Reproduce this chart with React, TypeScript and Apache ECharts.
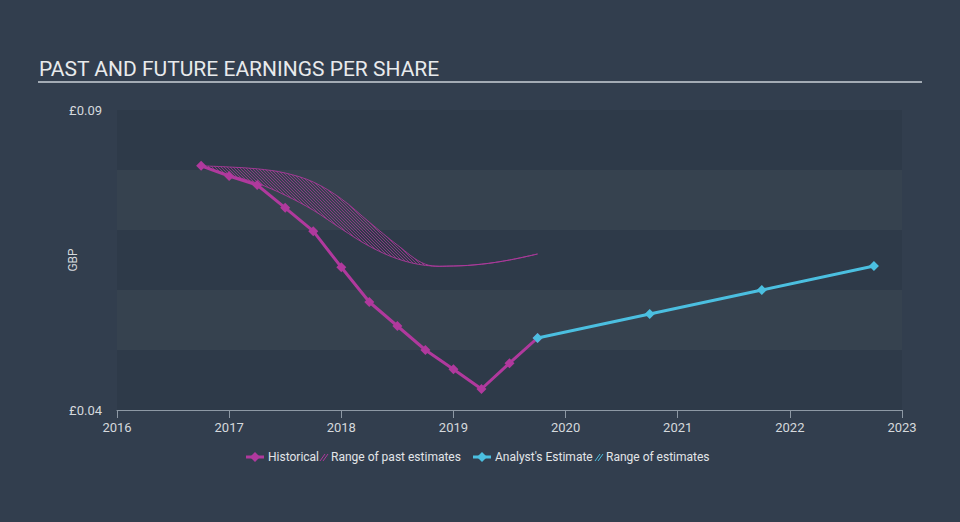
import React, { useEffect, useRef } from "react";
import * as echarts from "echarts";

const yearTicks = [2016, 2017, 2018, 2019, 2020, 2021, 2022, 2023];
const historicalYears = [2016.75, 2017.0, 2017.25, 2017.5, 2017.75, 2018.0, 2018.25, 2018.5, 2018.75, 2019.0, 2019.25, 2019.5, 2019.75];
const historicalEPS = [0.0807, 0.079, 0.0775, 0.0737, 0.0698, 0.0638, 0.058, 0.054, 0.05, 0.0468, 0.0435, 0.0478, 0.052];
const estimateYears = [2019.75, 2020.75, 2021.75, 2022.75];
const estimateEPS = [0.052, 0.056, 0.06, 0.064];
const pastRangeYears = [2016.75, 2017.0, 2017.25, 2017.5, 2017.75, 2018.0, 2018.25, 2018.5, 2018.75, 2019.0, 2019.25, 2019.5, 2019.75];
const pastRangeLow = [0.0807, 0.0792, 0.0778, 0.0758, 0.0733, 0.0702, 0.0673, 0.0652, 0.0641, 0.064, 0.0643, 0.065, 0.066];
const pastRangeHigh = [0.0807, 0.0805, 0.0802, 0.0795, 0.078, 0.0752, 0.0713, 0.0675, 0.0643, 0.064, 0.0643, 0.065, 0.066];
const yMin = 0.04;
const yMax = 0.09;

const MAGENTA = "#b0399d";
const CYAN = "#4bbfe0";
const FONT = "Roboto, 'Noto Sans', sans-serif";

function hatchPattern(color: string) {
  const n = 3;
  const c = document.createElement("canvas");
  c.width = n;
  c.height = n;
  const ctx = c.getContext("2d")!;
  ctx.fillStyle = color;
  for (let i = 0; i < n; i++) ctx.fillRect(i, i, 1, 1);
  return { image: c, repeat: "repeat", imageWidth: n, imageHeight: n } as any;
}

export default function App() {
  const ref = useRef<HTMLDivElement>(null);
  useEffect(() => {
    document.body.style.margin = "0";
    const chart = echarts.init(ref.current!, null, { renderer: "svg" });
    const pattern = hatchPattern("rgba(168,52,150,0.75)");
    const rangeData = pastRangeYears.map((x, i) => [x, pastRangeLow[i], pastRangeHigh[i]]);
    const option: any = {
      animation: false,
      backgroundColor: "#323e4e",
      grid: { left: 117, right: 58, top: 110, bottom: 112 },
      xAxis: {
        type: "value",
        min: yearTicks[0],
        max: yearTicks[yearTicks.length - 1],
        interval: 1,
        axisLine: { show: true, lineStyle: { color: "#8e99a5", width: 1 } },
        axisTick: { show: true, length: 8, lineStyle: { color: "#8e99a5" } },
        axisLabel: { color: "#d5d9dd", fontSize: 13, fontFamily: FONT, margin: 11, formatter: (v: number) => String(v) },
        splitLine: { show: false },
      },
      yAxis: {
        type: "value",
        min: yMin,
        max: yMax,
        interval: 0.01,
        name: "GBP",
        nameLocation: "middle",
        nameGap: 38,
        nameMoveOverlap: false,
        nameRotate: 90,
        nameTextStyle: { color: "#d5d9dd", fontSize: 12, fontFamily: FONT },
        axisLine: { show: false },
        axisTick: { show: false },
        axisLabel: {
          color: "#d5d9dd",
          fontSize: 13,
          fontFamily: FONT,
          margin: 15,
          formatter: (v: number) => (Math.abs(v - yMin) < 1e-6 || Math.abs(v - yMax) < 1e-6 ? "£" + v.toFixed(2) : ""),
        },
        splitLine: { show: false },
        splitArea: { show: true, areaStyle: { color: ["#2e3a49", "#36424f"] } },
      },
      series: [
        {
          name: "Range of past estimates",
          type: "custom",
          data: rangeData,
          encode: { x: 0, y: [1, 2] },
          z: 2,
          renderItem: (params: any, api: any) => {
            if (params.dataIndex !== 0) return null;
            const low = rangeData.map((d) => api.coord([d[0], d[1]]));
            const high = rangeData.map((d) => api.coord([d[0], d[2]]));
            const poly = high.concat(low.slice().reverse());
            return {
              type: "group",
              children: [
                { type: "polygon", shape: { points: poly, smooth: 0.35 }, style: { fill: pattern, stroke: null } },
                { type: "polyline", shape: { points: high, smooth: 0.35 }, style: { stroke: MAGENTA, lineWidth: 1, fill: null, opacity: 0.85 } },
                { type: "polyline", shape: { points: low, smooth: 0.35 }, style: { stroke: MAGENTA, lineWidth: 1, fill: null, opacity: 0.85 } },
              ],
            };
          },
        },
        {
          name: "Historical",
          type: "line",
          symbol: "diamond",
          symbolSize: 10,
          data: historicalYears.map((x, i) => [x, historicalEPS[i]]),
          lineStyle: { color: MAGENTA, width: 3 },
          itemStyle: { color: MAGENTA },
          z: 4,
        },
        {
          name: "Analyst's Estimate",
          type: "line",
          symbol: "diamond",
          symbolSize: 10,
          data: estimateYears.map((x, i) => [x, estimateEPS[i]]),
          lineStyle: { color: CYAN, width: 3 },
          itemStyle: { color: CYAN },
          z: 5,
        },
      ],
      graphic: [
        {
          type: "text",
          left: 39,
          top: 58,
          style: { text: "PAST AND FUTURE EARNINGS PER SHARE", fill: "#e8eaec", font: `21px ${FONT}` },
        },
        { type: "rect", shape: { x: 38, y: 81, width: 884, height: 2 }, style: { fill: "#a3abb4" } },
        // legend
        { type: "line", shape: { x1: 246, y1: 457, x2: 264, y2: 457 }, style: { stroke: MAGENTA, lineWidth: 3 } },
        { type: "polygon", shape: { points: [[255, 452], [260, 457], [255, 462], [250, 457]] }, style: { fill: MAGENTA } },
        { type: "text", x: 268, y: 457, style: { text: "Historical", fill: "#e2e5e8", font: `12px ${FONT}`, verticalAlign: "middle" } },
        { type: "line", shape: { x1: 320, y1: 461, x2: 325, y2: 454 }, style: { stroke: MAGENTA, lineWidth: 1 } },
        { type: "line", shape: { x1: 323, y1: 461, x2: 328, y2: 454 }, style: { stroke: MAGENTA, lineWidth: 1 } },
        { type: "text", x: 331, y: 457, style: { text: "Range of past estimates", fill: "#e2e5e8", font: `12px ${FONT}`, verticalAlign: "middle" } },
        { type: "line", shape: { x1: 473, y1: 457, x2: 491, y2: 457 }, style: { stroke: CYAN, lineWidth: 3 } },
        { type: "polygon", shape: { points: [[482, 452], [487, 457], [482, 462], [477, 457]] }, style: { fill: CYAN } },
        { type: "text", x: 495, y: 457, style: { text: "Analyst's Estimate", fill: "#e2e5e8", font: `12px ${FONT}`, verticalAlign: "middle" } },
        { type: "line", shape: { x1: 595, y1: 461, x2: 600, y2: 454 }, style: { stroke: CYAN, lineWidth: 1 } },
        { type: "line", shape: { x1: 598, y1: 461, x2: 603, y2: 454 }, style: { stroke: CYAN, lineWidth: 1 } },
        { type: "text", x: 606, y: 457, style: { text: "Range of estimates", fill: "#e2e5e8", font: `12px ${FONT}`, verticalAlign: "middle" } },
      ],
    };
    chart.setOption(option);
    return () => chart.dispose();
  }, []);
  return <div ref={ref} style={{ position: "fixed", left: 0, top: 0, width: 960, height: 522 }} />;
}
